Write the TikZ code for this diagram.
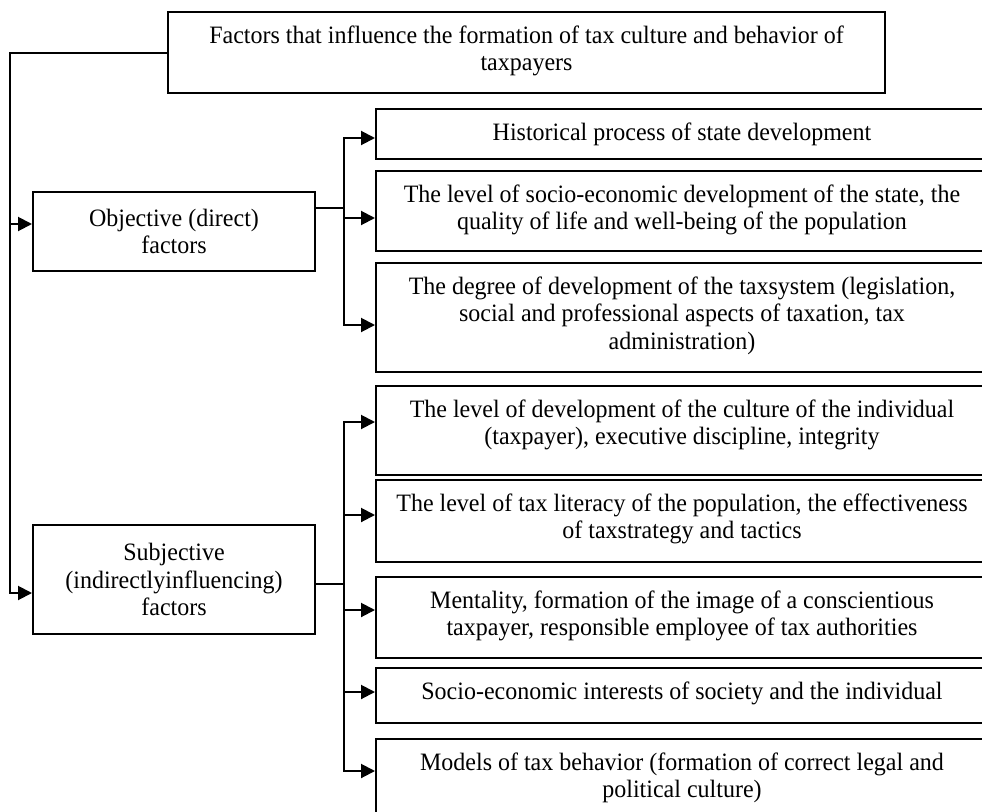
\documentclass[tikz,border=0pt]{standalone}
\usepackage{fontspec}
\setmainfont[FakeStretch=0.96]{Liberation Serif}
\usetikzlibrary{arrows.meta,calc}
\tikzset{
  box/.style={draw, line width=2pt, inner sep=0pt, anchor=north west},
  sidebox/.style={draw, line width=2pt, inner sep=0pt, align=center,
    minimum width=282pt, font=\fontsize{25}{27.5}\selectfont},
  boxtext/.style={align=center, inner sep=0pt, anchor=north,
    font=\fontsize{25}{27.5}\selectfont},
  link/.style={line width=2pt},
  thinlink/.style={line width=1.5pt},
  feed/.style={link, -{Triangle[length=14pt,width=14pt]}},
}
\begin{document}
\begin{tikzpicture}[x=1pt,y=-1pt]
\path[use as bounding box] (0,0) rectangle (982,811);
\clip (0,0) rectangle (982,811);

% heading box
\node[box, minimum width=717pt, minimum height=81pt] (top) at (167,11) {};
\node[boxtext] (topt) at ($(top.north)+(0,13)$)
  {\strut Factors that influence the formation of tax culture and behavior of\\taxpayers};

% the two groups of factors
\node[sidebox, minimum height=79pt] (obj) at (174,231.5) {Objective (direct)\\factors};
\node[sidebox, minimum height=109pt] (subj) at (174,579.5)
  {Subjective\\(indirectlyinfluencing)\\factors};

% objective factors
\node[box, minimum width=612pt, minimum height=50pt] (b1) at (375,108) {};
\node[box, minimum width=612pt, minimum height=80pt] (b2) at (375,170) {};
\node[box, minimum width=612pt, minimum height=109pt] (b3) at (375,262) {};
\node[boxtext] (b1t) at ($(b1.north)+(0,13)$) {\strut Historical process of state development};
\node[boxtext] (b2t) at ($(b2.north)+(0,13)$)
  {\strut The level of socio-economic development of the state, the\\quality of life and well-being of the population};
\node[boxtext] (b3t) at ($(b3.north)+(0,13)$)
  {\strut The degree of development of the taxsystem (legislation,\\social and professional aspects of taxation, tax\\administration)};

% subjective factors
\node[box, minimum width=612pt, minimum height=89pt] (b4) at (375,385) {};
\node[box, minimum width=612pt, minimum height=82pt] (b5) at (375,479) {};
\node[box, minimum width=612pt, minimum height=81pt] (b6) at (375,576) {};
\node[box, minimum width=612pt, minimum height=55pt] (b7) at (375,667) {};
\node[box, minimum width=612pt, minimum height=100pt] (b8) at (375,738) {};
\node[boxtext] (b4t) at ($(b4.north)+(0,13)$)
  {\strut The level of development of the culture of the individual\\(taxpayer), executive discipline, integrity};
\node[boxtext] (b5t) at ($(b5.north)+(0,13)$)
  {\strut The level of tax literacy of the population, the effectiveness\\of taxstrategy and tactics};
\node[boxtext] (b6t) at ($(b6.north)+(0,13)$)
  {\strut Mentality, formation of the image of a conscientious\\taxpayer, responsible employee of tax authorities};
\node[boxtext] (b7t) at ($(b7.north)+(0,13)$)
  {\strut Socio-economic interests of society and the individual};
\node[boxtext] (b8t) at ($(b8.north)+(0,13)$)
  {\strut Models of tax behavior (formation of correct legal and\\political culture)};

% left rail from the heading to both groups
\coordinate (railO) at (10,224);
\coordinate (railS) at (10,593);
\draw[feed] (top.west) -| (railS) -- (subj.west |- railS);
\draw[feed] (railO) -- (obj.west |- railO);

% branch of the objective group
\coordinate (objOut) at (315,208);
\coordinate (jO) at (344,208);
\coordinate (a1) at (375,138);
\coordinate (a2) at (375,218);
\coordinate (a3) at (375,325);
\draw[thinlink] (objOut) -- (jO);
\draw[feed] (jO) |- (a1);
\draw[feed] (jO) |- (a2);
\draw[feed] (jO) |- (a3);

% branch of the subjective group
\coordinate (subjOut) at (315,584);
\coordinate (jS) at (344,584);
\coordinate (a4) at (375,422);
\coordinate (a5) at (375,515);
\coordinate (a6) at (375,610);
\coordinate (a7) at (375,692);
\coordinate (a8) at (375,771);
\draw[thinlink] (subjOut) -- (jS);
\draw[feed] (jS) |- (a4);
\draw[feed] (jS) |- (a5);
\draw[feed] (jS) |- (a6);
\draw[feed] (jS) |- (a7);
\draw[feed] (jS) |- (a8);
\end{tikzpicture}
\end{document}
